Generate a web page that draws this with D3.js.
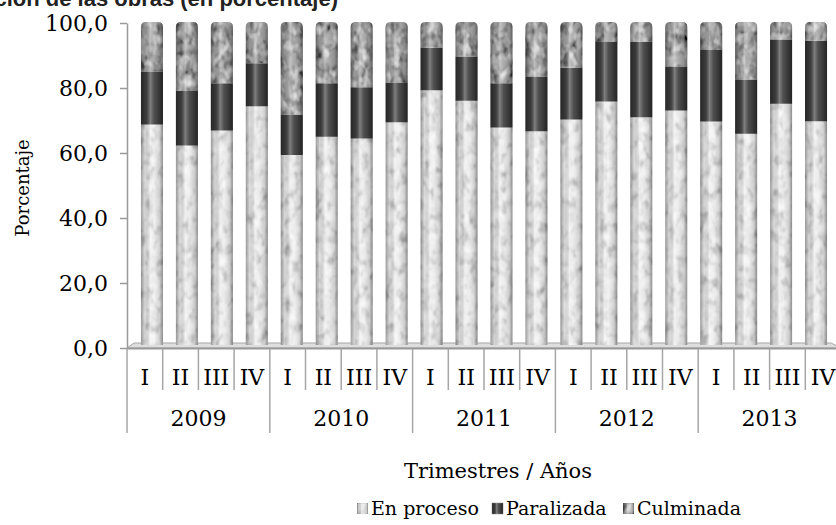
<!DOCTYPE html>
<html>
<head>
<meta charset="utf-8">
<script src="https://cdn.jsdelivr.net/npm/d3@7"></script>
<style>
    body { margin: 0; background: #fff; }
    svg { display: block; }
</style>
</head>
<body>
<script>
// Quarterly status of the works, stacked to 100 %
var quarters = ["I", "II", "III", "IV"];
var years = ["2009", "2010", "2011", "2012", "2013"];
var seriesNames = ["En proceso", "Paralizada", "Culminada"];

var enProceso = [68.3, 61.8, 66.4, 73.9, 58.8, 64.5, 63.9, 69.0, 78.9, 75.6,
                 67.3, 66.2, 69.8, 75.4, 70.5, 72.6, 69.2, 65.4, 74.7, 69.3];
var paralizada = [16.4, 16.8, 14.6, 13.3, 12.5, 16.5, 15.9, 12.2, 13.1, 13.7,
                  13.7, 16.8, 16.0, 18.4, 23.4, 13.6, 22.1, 16.8, 19.9, 24.9];
var culminada = [15.3, 21.4, 19.0, 12.8, 28.7, 19.0, 20.2, 18.8, 8.0, 10.7,
                 19.0, 17.0, 14.2, 6.2, 6.1, 13.8, 8.7, 17.8, 5.4, 5.8];
var yTicks = [0, 20, 40, 60, 80, 100];

var width = 836, height = 525;
var serif = "'DejaVu Serif', serif";

var svg = d3.select("body").append("svg")
    .attr("width", width)
    .attr("height", height);

// one row per quarter
var keys = [];
years.forEach(function(y) {
    quarters.forEach(function(q) { keys.push(y + "-" + q); });
});
var rows = keys.map(function(k, i) {
    return {key: k, "En proceso": enProceso[i], "Paralizada": paralizada[i],
            "Culminada": culminada[i]};
});
var stacked = d3.stack().keys(seriesNames)(rows);

// front plane (axes) and back plane (bars) of the 3-D chart
var x = d3.scaleBand().domain(keys).range([127, 841]);
var y = d3.scaleLinear().domain([0, 100]).range([348, 23]);
var xBar = d3.scaleBand().domain(keys).range([134.5, 833.5])
    .paddingInner(0.37).paddingOuter(0.185);
var yBar = d3.scaleLinear().domain([0, 100]).range([345, 22]);

// ---- defs: cylinder shading and mottled textures ----
var defs = svg.append("defs");
var shade = defs.append("linearGradient").attr("id", "shade")
    .attr("x1", "0").attr("x2", "1").attr("y1", "0").attr("y2", "0");
[[0, "#000", 0.35], [0.18, "#000", 0.08], [0.42, "#fff", 0.35],
 [0.6, "#fff", 0.1], [0.85, "#000", 0.12], [1, "#000", 0.4]]
    .forEach(function(s) {
        shade.append("stop").attr("offset", s[0])
            .attr("stop-color", s[1]).attr("stop-opacity", s[2]);
    });

function mottle(id, seed, darkA, darkB, lightA, lightB) {
    var f = defs.append("filter").attr("id", id)
        .attr("x", 0).attr("y", 0).attr("width", 1).attr("height", 1);
    f.append("feTurbulence").attr("type", "fractalNoise")
        .attr("baseFrequency", "0.13 0.09").attr("numOctaves", 2)
        .attr("seed", seed).attr("result", "noise");
    f.append("feColorMatrix").attr("in", "noise").attr("type", "matrix")
        .attr("values", "0 0 0 0 0  0 0 0 0 0  0 0 0 0 0  " + darkA +
              " 0 0 0 " + darkB)
        .attr("result", "dark");
    f.append("feColorMatrix").attr("in", "noise").attr("type", "matrix")
        .attr("values", "0 0 0 0 1  0 0 0 0 1  0 0 0 0 1  0 " + lightA +
              " 0 0 " + lightB)
        .attr("result", "light");
    f.append("feComposite").attr("in", "dark").attr("in2", "SourceGraphic")
        .attr("operator", "in").attr("result", "darkC");
    f.append("feComposite").attr("in", "light").attr("in2", "SourceGraphic")
        .attr("operator", "in").attr("result", "lightC");
    var m = f.append("feMerge");
    m.append("feMergeNode").attr("in", "SourceGraphic");
    m.append("feMergeNode").attr("in", "darkC");
    m.append("feMergeNode").attr("in", "lightC");
}
mottle("mottleLight", 4, 1.3, -0.6, 1.5, -0.55);
mottle("mottleDark", 9, 2.4, -1.0, 1.8, -0.85);

var fills = {"En proceso": "#e6e6e6", "Paralizada": "#3b3b3b",
             "Culminada": "#a2a2a2"};
var filters = {"En proceso": "url(#mottleLight)", "Paralizada": null,
               "Culminada": "url(#mottleDark)"};

// ---- title, mostly cut by the page top as in the source ----
svg.append("text")
    .attr("x", 338).attr("y", 6)
    .attr("text-anchor", "end")
    .attr("font-family", "'Liberation Sans', sans-serif")
    .attr("font-weight", "bold")
    .attr("font-size", "22px")
    .attr("fill", "#222")
    .text("Situación de las obras (en porcentaje)");

// ---- floor ----
svg.append("polygon")
    .attr("points", [[127, 348], [134, 343], [831, 343], [841, 348]].join(" "))
    .attr("fill", "#dedede")
    .attr("stroke", "#a6a6a6")
    .attr("stroke-width", 1);
svg.append("line")
    .attr("x1", 127).attr("x2", 841).attr("y1", 348.5).attr("y2", 348.5)
    .attr("stroke", "#999").attr("stroke-width", 2);

// ---- bars ----
function topPath(x0, w, yTop, yBot, r) {
    return "M" + x0 + "," + yBot + "V" + (yTop + r) +
        "Q" + x0 + "," + yTop + " " + (x0 + r) + "," + yTop +
        "H" + (x0 + w - r) +
        "Q" + (x0 + w) + "," + yTop + " " + (x0 + w) + "," + (yTop + r) +
        "V" + yBot + "Z";
}

var bw = xBar.bandwidth();
var layer = svg.selectAll("g.layer")
    .data(stacked)
    .enter().append("g")
    .attr("class", "layer");

layer.selectAll("path")
    .data(function(s) {
        return s.map(function(d) { return {s: s.key, d: d}; });
    })
    .enter().append("path")
    .attr("d", function(o) {
        var x0 = xBar(o.d.data.key);
        var r = o.s === "Culminada" ? 5 : 0;
        return topPath(x0, bw, yBar(o.d[1]), yBar(o.d[0]), r);
    })
    .attr("fill", function(o) { return fills[o.s]; })
    .attr("filter", function(o) { return filters[o.s]; });

// cylinder shading over each whole bar
svg.selectAll("path.shade")
    .data(rows)
    .enter().append("path")
    .attr("class", "shade")
    .attr("d", function(d) {
        return topPath(xBar(d.key), bw, yBar(100), yBar(0), 5);
    })
    .attr("fill", "url(#shade)");

// ---- y axis ----
var yAxis = d3.axisLeft(y)
    .tickValues(yTicks)
    .tickSize(7)
    .tickSizeOuter(0)
    .tickPadding(12)
    .tickFormat(function(d) { return d.toFixed(1).replace(".", ","); });

var gy = svg.append("g")
    .attr("transform", "translate(127,0)")
    .call(yAxis);
gy.selectAll("path, line").attr("stroke", "#9a9a9a").attr("stroke-width", 1.5);
gy.selectAll("text")
    .attr("font-family", serif)
    .attr("font-size", "22px")
    .attr("fill", "#000");

svg.append("text")
    .attr("transform", "translate(29,188)rotate(-90)")
    .attr("text-anchor", "middle")
    .attr("font-family", serif)
    .attr("font-size", "18px")
    .text("Porcentaje");

// ---- x axis: quarters and years ----
var sepColor = "#a6a6a6";
var xg = svg.append("g");
xg.selectAll("line.q")
    .data(keys.concat(["end"]))
    .enter().append("line")
    .attr("x1", function(k) { return k === "end" ? 841 : x(k); })
    .attr("x2", function(k) { return k === "end" ? 841 : x(k); })
    .attr("y1", 349)
    .attr("y2", function(k, i) { return i % 4 === 0 ? 433 : 390; })
    .attr("stroke", sepColor)
    .attr("stroke-width", 1.5);

xg.selectAll("text.q")
    .data(keys)
    .enter().append("text")
    .attr("x", function(k) { return x(k) + x.bandwidth() / 2; })
    .attr("y", 385)
    .attr("text-anchor", "middle")
    .attr("font-family", serif)
    .attr("font-size", "22px")
    .text(function(k) { return k.split("-")[1]; });

xg.selectAll("text.y")
    .data(years)
    .enter().append("text")
    .attr("x", function(yr) {
        return x(yr + "-I") + 2 * x.bandwidth();
    })
    .attr("y", 426)
    .attr("text-anchor", "middle")
    .attr("font-family", serif)
    .attr("font-size", "22px")
    .text(function(yr) { return yr; });

svg.append("text")
    .attr("x", 498).attr("y", 478)
    .attr("text-anchor", "middle")
    .attr("font-family", serif)
    .attr("font-size", "21px")
    .text("Trimestres / Años");

// ---- legend ----
var legendX = [357, 492, 623];
var legend = svg.selectAll("g.legend")
    .data(seriesNames)
    .enter().append("g")
    .attr("class", "legend")
    .attr("transform", function(d, i) {
        return "translate(" + legendX[i] + ",514)";
    });
legend.append("rect")
    .attr("x", 0).attr("y", -11)
    .attr("width", 11).attr("height", 11)
    .attr("fill", function(d) { return fills[d]; })
    .attr("filter", function(d) { return filters[d]; })
    .attr("stroke", "#888").attr("stroke-width", 0.5);
legend.append("rect")
    .attr("x", 0).attr("y", -11)
    .attr("width", 11).attr("height", 11)
    .attr("fill", "url(#shade)");
legend.append("text")
    .attr("x", 14).attr("y", 1)
    .attr("font-family", serif)
    .attr("font-size", "19px")
    .text(function(d) { return d; });
</script>
</body>
</html>
